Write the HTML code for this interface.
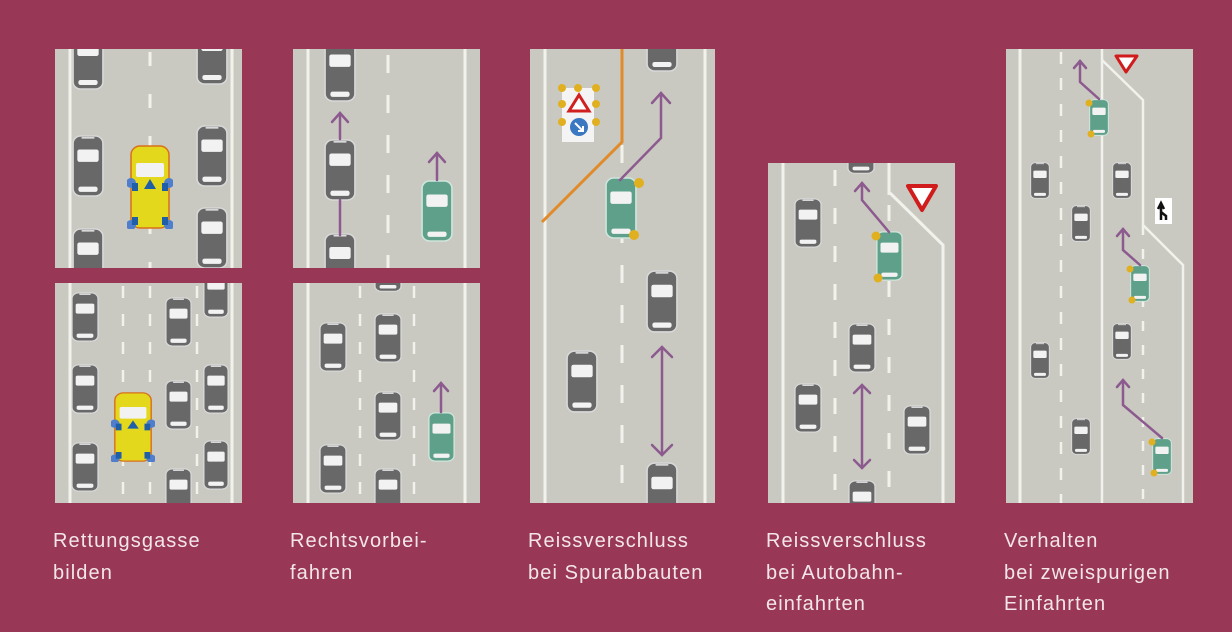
<!DOCTYPE html>
<html><head><meta charset="utf-8"><style>
html,body{margin:0;padding:0;background:#993756;}
body{width:1232px;height:632px;position:relative;overflow:hidden;font-family:"Liberation Sans",sans-serif;}
.l{position:absolute;top:526px;color:#f3e6ea;font-size:20px;line-height:31.5px;letter-spacing:1.1px;}
svg{position:absolute;left:0;top:0;}
</style></head><body>
<svg width="1232" height="632" viewBox="0 0 1232 632">
<defs>
<clipPath id="c1a"><rect x="55" y="49" width="187" height="219"/></clipPath>
<clipPath id="c1b"><rect x="55" y="283" width="187" height="220"/></clipPath>
<clipPath id="c2a"><rect x="293" y="49" width="187" height="219"/></clipPath>
<clipPath id="c2b"><rect x="293" y="283" width="187" height="220"/></clipPath>
<clipPath id="c3"><rect x="530" y="49" width="185" height="454"/></clipPath>
<clipPath id="c4"><rect x="768" y="163" width="187" height="340"/></clipPath>
<clipPath id="c5"><rect x="1006" y="49" width="187" height="454"/></clipPath>
<symbol id="car" viewBox="0 0 30 60" preserveAspectRatio="none">
<rect x="1" y="1" width="28" height="58" rx="7" fill="#686868" stroke="#d8d8d8" stroke-width="1.5"/>
<rect x="3" y="3" width="24" height="54" rx="5" fill="#686868"/>
<rect x="5" y="14" width="20" height="12" rx="2" fill="#f2f2f2"/>
<rect x="6" y="50" width="18" height="5" rx="2" fill="#f2f2f2"/>
<rect x="9" y="2" width="12" height="1.5" fill="#e0e0e0"/>
</symbol>
<symbol id="gcar" viewBox="0 0 30 60" preserveAspectRatio="none">
<rect x="1" y="1" width="28" height="58" rx="7" fill="#5fa08a" stroke="#cfe6dc" stroke-width="1.5"/>
<rect x="3" y="3" width="24" height="54" rx="5" fill="#5fa08a"/>
<rect x="5" y="14" width="20" height="12" rx="2" fill="#f2f2f2"/>
<rect x="6" y="50" width="18" height="5" rx="2" fill="#f2f2f2"/>
</symbol>
<symbol id="ycar" viewBox="0 0 46 84" preserveAspectRatio="none">
<rect x="4" y="1" width="38" height="82" rx="9" fill="#e4d81c" stroke="#d8701a" stroke-width="1.5"/>
<rect x="9" y="18" width="28" height="14" rx="2" fill="#f2f2f2"/>
<path d="M23 34 L29 44 L17 44 Z" fill="#1f5fa8"/>
<g fill="#4f7fcc"><circle cx="4" cy="38" r="5"/><circle cx="42" cy="38" r="5"/><circle cx="4" cy="80" r="5"/><circle cx="42" cy="80" r="5"/></g>
<g fill="#1f5fa8"><rect x="5" y="38" width="6" height="8"/><rect x="35" y="38" width="6" height="8"/><rect x="5" y="72" width="6" height="8"/><rect x="35" y="72" width="6" height="8"/></g>
</symbol>
</defs>

<g fill="#c9c9c1">
<rect x="55" y="49" width="187" height="219"/><rect x="55" y="283" width="187" height="220"/>
<rect x="293" y="49" width="187" height="219"/><rect x="293" y="283" width="187" height="220"/>
<rect x="530" y="49" width="185" height="454"/>
<rect x="768" y="163" width="187" height="340"/>
<rect x="1006" y="49" width="187" height="454"/>
</g>

<g stroke="#f2f2ec" stroke-width="3" fill="none">
<line x1="70" y1="49" x2="70" y2="268"/><line x1="232" y1="49" x2="232" y2="268"/>
<line x1="150" y1="52" x2="150" y2="268" stroke-dasharray="14 28"/>
<line x1="70" y1="283" x2="70" y2="503"/><line x1="232" y1="283" x2="232" y2="503"/>
<line x1="123" y1="286" x2="123" y2="503" stroke-dasharray="12 16" stroke-width="2.5"/>
<line x1="150" y1="286" x2="150" y2="503" stroke-dasharray="12 16" stroke-width="2.5"/>
<line x1="197" y1="286" x2="197" y2="503" stroke-dasharray="12 16" stroke-width="2.5"/>
<line x1="308" y1="49" x2="308" y2="268"/><line x1="465" y1="49" x2="465" y2="268"/>
<line x1="388" y1="55" x2="388" y2="268" stroke-dasharray="18 22"/>
<line x1="308" y1="283" x2="308" y2="503"/><line x1="465" y1="283" x2="465" y2="503"/>
<line x1="360" y1="286" x2="360" y2="503" stroke-dasharray="12 16" stroke-width="2.5"/>
<line x1="414" y1="286" x2="414" y2="503" stroke-dasharray="12 16" stroke-width="2.5"/>
<line x1="545" y1="49" x2="545" y2="503"/><line x1="705" y1="49" x2="705" y2="503"/>
<line x1="622" y1="145" x2="622" y2="503" stroke-dasharray="18 22"/>
<line x1="783" y1="163" x2="783" y2="503"/>
<line x1="835" y1="170" x2="835" y2="503" stroke-dasharray="16 22"/>
<line x1="889" y1="163" x2="889" y2="195"/>
<line x1="889" y1="205" x2="889" y2="503" stroke-dasharray="16 22"/>
<polyline points="890,193 943,245 943,503"/>
<line x1="1020" y1="49" x2="1020" y2="503"/>
<line x1="1061" y1="52" x2="1061" y2="503" stroke-dasharray="12 14" stroke-width="2.5"/>
<line x1="1102" y1="49" x2="1102" y2="503" stroke-width="2.5"/>
<line x1="1143" y1="225" x2="1143" y2="503" stroke-dasharray="10 14" stroke-width="2.5"/>
<polyline points="1102,60 1143,100 1143,225 1183,265 1183,503" stroke-width="2.5"/>
</g>

<polyline points="622,49 622,142 542,222" fill="none" stroke="#e08a2a" stroke-width="3"/>
<rect x="562" y="88" width="32" height="54" fill="#f4f4f4"/>
<g fill="#e0b020"><circle cx="562" cy="88" r="4"/><circle cx="578" cy="88" r="4"/><circle cx="596" cy="88" r="4"/><circle cx="562" cy="104" r="4"/><circle cx="596" cy="104" r="4"/><circle cx="562" cy="122" r="4"/><circle cx="596" cy="122" r="4"/></g>
<path d="M579 95 L589 111 L569 111 Z" fill="#fff" stroke="#d02020" stroke-width="3"/>
<circle cx="579" cy="127" r="9" fill="#3b78c2"/>
<path d="M575 123 L583 131 M583 126 L583 131 L578 131" stroke="#fff" stroke-width="2" fill="none"/>

<path d="M908 186 L936 186 L922 210 Z" fill="#fff" stroke="#d01c1c" stroke-width="4" stroke-linejoin="round"/>
<path d="M1116 56 L1137 56 L1126 72 Z" fill="#fff" stroke="#d01c1c" stroke-width="3" stroke-linejoin="round"/>
<rect x="1155" y="198" width="17" height="26" fill="#fff"/>
<path d="M1161 220 L1161 206 M1158 209 L1161 203 L1164 209 M1161 212 L1166 216 L1166 220" stroke="#111" stroke-width="2.5" fill="none"/>

<g clip-path="url(#c1a)">
<use href="#car" x="72" y="30" width="32" height="60"/>
<use href="#car" x="72" y="135" width="32" height="62"/>
<use href="#car" x="72" y="228" width="32" height="62"/>
<use href="#car" x="196" y="25" width="32" height="60"/>
<use href="#car" x="196" y="125" width="32" height="62"/>
<use href="#car" x="196" y="207" width="32" height="62"/>
<use href="#ycar" x="127" y="145" width="46" height="84"/>
</g>
<g clip-path="url(#c1b)">
<use href="#car" x="71" y="292" width="28" height="50"/>
<use href="#car" x="71" y="364" width="28" height="50"/>
<use href="#car" x="71" y="442" width="28" height="50"/>
<use href="#ycar" x="111" y="392" width="44" height="70"/>
<use href="#car" x="165" y="297" width="27" height="50"/>
<use href="#car" x="165" y="380" width="27" height="50"/>
<use href="#car" x="165" y="468" width="27" height="50"/>
<use href="#car" x="203" y="268" width="26" height="50"/>
<use href="#car" x="203" y="364" width="26" height="50"/>
<use href="#car" x="203" y="440" width="26" height="50"/>
</g>
<g clip-path="url(#c2a)">
<use href="#car" x="324" y="40" width="32" height="62"/>
<use href="#car" x="324" y="139" width="32" height="62"/>
<use href="#car" x="324" y="233" width="32" height="60"/>
<use href="#gcar" x="421" y="180" width="32" height="62"/>
</g>
<g clip-path="url(#c2b)">
<use href="#car" x="319" y="322" width="28" height="50"/>
<use href="#car" x="319" y="444" width="28" height="50"/>
<use href="#car" x="374" y="250" width="28" height="42"/>
<use href="#car" x="374" y="313" width="28" height="50"/>
<use href="#car" x="374" y="391" width="28" height="50"/>
<use href="#car" x="374" y="468" width="28" height="50"/>
<use href="#gcar" x="428" y="412" width="27" height="50"/>
</g>
<g clip-path="url(#c3)">
<use href="#car" x="646" y="12" width="32" height="60"/>
<use href="#car" x="646" y="270" width="32" height="63"/>
<use href="#car" x="566" y="350" width="32" height="63"/>
<use href="#car" x="646" y="462" width="32" height="63"/>
<use href="#gcar" x="605" y="177" width="32" height="62"/>
<g fill="#e0b020"><circle cx="639" cy="183" r="5"/><circle cx="634" cy="235" r="5"/></g>
</g>
<g clip-path="url(#c4)">
<use href="#car" x="847" y="130" width="28" height="44"/>
<use href="#car" x="794" y="198" width="28" height="50"/>
<use href="#car" x="794" y="383" width="28" height="50"/>
<use href="#car" x="848" y="323" width="28" height="50"/>
<use href="#car" x="848" y="480" width="28" height="50"/>
<use href="#car" x="903" y="405" width="28" height="50"/>
<use href="#gcar" x="876" y="231" width="27" height="50"/>
<g fill="#e0b020"><circle cx="876" cy="236" r="4.5"/><circle cx="878" cy="278" r="4.5"/></g>
</g>
<g clip-path="url(#c5)">
<use href="#car" x="1030" y="162" width="20" height="37"/>
<use href="#car" x="1030" y="342" width="20" height="37"/>
<use href="#car" x="1071" y="205" width="20" height="37"/>
<use href="#car" x="1071" y="418" width="20" height="37"/>
<use href="#car" x="1112" y="162" width="20" height="37"/>
<use href="#car" x="1112" y="323" width="20" height="37"/>
<use href="#gcar" x="1089" y="99" width="20" height="37"/>
<use href="#gcar" x="1130" y="265" width="20" height="37"/>
<use href="#gcar" x="1152" y="438" width="20" height="37"/>
<g fill="#e0b020"><circle cx="1089" cy="103" r="3.5"/><circle cx="1091" cy="134" r="3.5"/><circle cx="1130" cy="269" r="3.5"/><circle cx="1132" cy="300" r="3.5"/><circle cx="1152" cy="442" r="3.5"/><circle cx="1154" cy="473" r="3.5"/></g>
</g>

<g stroke="#8c5a8e" stroke-width="2.5" fill="none" stroke-linecap="round">
<line x1="340" y1="235" x2="340" y2="200"/>
<line x1="340" y1="139" x2="340" y2="113"/><polyline points="332,122 340,113 348,122"/>
<line x1="437" y1="180" x2="437" y2="153"/><polyline points="429,162 437,153 445,162"/>
<line x1="441" y1="412" x2="441" y2="383"/><polyline points="434,391 441,383 448,391"/>
<polyline points="620,180 661,138 661,93"/><polyline points="652,103 661,93 670,103"/>
<line x1="662" y1="347" x2="662" y2="455"/><polyline points="652,357 662,347 672,357"/><polyline points="652,445 662,455 672,445"/>
<polyline points="889,232 862,200 862,183"/><polyline points="855,191 862,183 869,191"/>
<line x1="862" y1="385" x2="862" y2="468"/><polyline points="854,393 862,385 870,393"/><polyline points="854,460 862,468 870,460"/>
<polyline points="1099,99 1080,82 1080,61"/><polyline points="1074,68 1080,61 1086,68"/>
<polyline points="1140,265 1123,250 1123,229"/><polyline points="1117,236 1123,229 1129,236"/>
<polyline points="1162,438 1123,405 1123,380"/><polyline points="1117,387 1123,380 1129,387"/>
</g>
</svg>

<div class="l" style="left:53px">Rettungsgasse<br>bilden</div>
<div class="l" style="left:290px">Rechtsvorbei-<br>fahren</div>
<div class="l" style="left:528px">Reissverschluss<br>bei Spurabbauten</div>
<div class="l" style="left:766px">Reissverschluss<br>bei Autobahn-<br>einfahrten</div>
<div class="l" style="left:1004px">Verhalten<br>bei zweispurigen<br>Einfahrten</div>
</body></html>
